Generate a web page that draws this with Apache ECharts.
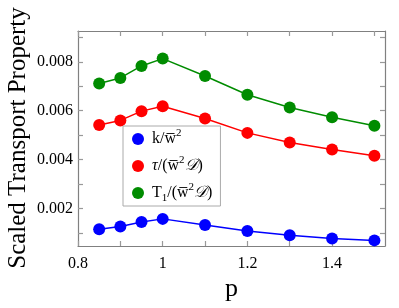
<!DOCTYPE html>
<html><head><meta charset="utf-8">
<script src="https://cdn.jsdelivr.net/npm/echarts@6/dist/echarts.min.js"></script>
<style>html,body{margin:0;padding:0;background:#fff}#c{width:399px;height:308px}</style>
</head><body><div id="c"></div>
<script>
const pValues = [0.85, 0.9, 0.95, 1.0, 1.1, 1.2, 1.3, 1.4, 1.5];
const kScaled = [0.00115, 0.00126, 0.00144, 0.00157, 0.00132, 0.00107, 0.00090, 0.00077, 0.00069];
const tauScaled = [0.00541, 0.00560, 0.00598, 0.00618, 0.00568, 0.00509, 0.00470, 0.00441, 0.00415];
const t1Scaled = [0.00711, 0.00734, 0.00783, 0.00813, 0.00742, 0.00665, 0.00613, 0.00573, 0.00538];
const seriesNames = ['k', 'tau', 'T1'];
const xTickValues = [0.8, 0.9, 1.0, 1.1, 1.2, 1.3, 1.4, 1.5];
const xLabelValues = [0.8, 1.0, 1.2, 1.4];
const yTickValues = [0.001, 0.002, 0.003, 0.004, 0.005, 0.006, 0.007, 0.008, 0.009];
const yLabelValues = [0.002, 0.004, 0.006, 0.008];
const yTitle = 'Scaled Transport Property';

const FONT = '"Liberation Serif", "DejaVu Serif", serif';
const pair = (ys) => pValues.map((x, i) => [x, ys[i]]);
const chart = echarts.init(document.getElementById('c'), null, {renderer: 'canvas'});
const axisCol = '#808080';

const common = {
  axisLine: {show: true, lineStyle: {color: axisCol, width: 1.2}},
  splitLine: {show: false}
};
const tick = (vals) => ({show: true, inside: true, length: 5, customValues: vals, lineStyle: {color: '#999', width: 1.2}});
const legendFmt = {
  k: '{f|k/w\u0305}{sup|2}',
  tau: '{fi|τ}{t|/(w\u0305}{sup|2}{it|𝒟}{t|)}',
  T1: '{f|T}{sub|1}{t|/(w\u0305}{sup|2}{it|𝒟}{t|)}'
};
const mk = (name, data, color) => ({
  name, type: 'line', data, symbol: 'circle', symbolSize: 12,
  itemStyle: {color}, lineStyle: {color, width: 1.5}, z: 3
});
chart.setOption({
  animation: false,
  grid: {left: 78, right: 14, top: 31, bottom: 62, containLabel: false, outerBoundsMode: 'none'},
  graphic: [{
    type: 'text', x: 18, y: 138, rotation: Math.PI / 2,
    style: {text: yTitle, fontFamily: FONT, fontSize: 25, fill: '#000', align: 'center', verticalAlign: 'middle'}
  }],
  xAxis: [
    Object.assign({type: 'value', min: 0.8, max: 1.525,
      name: 'p', nameLocation: 'middle', nameGap: 30, nameMoveOverlap: false,
      nameTextStyle: {fontFamily: FONT, fontSize: 26, color: '#000'},
      axisTick: tick(xTickValues),
      axisLabel: {customValues: xLabelValues, formatter: (v) => String(+v.toFixed(1)),
        fontFamily: FONT, fontSize: 16, color: '#000', margin: 10}}, common),
    Object.assign({type: 'value', position: 'top', min: 0.8, max: 1.525,
      axisTick: tick(xTickValues), axisLabel: {show: false}}, common)
  ],
  yAxis: [
    Object.assign({type: 'value', min: 0.00046, max: 0.00926,
      axisTick: tick(yTickValues),
      axisLabel: {customValues: yLabelValues, formatter: (v) => v.toFixed(3),
        fontFamily: FONT, fontSize: 16, color: '#000', margin: 5}}, common),
    Object.assign({type: 'value', position: 'right', min: 0.00046, max: 0.00926,
      axisTick: tick(yTickValues), axisLabel: {show: false}}, common)
  ],
  legend: {
    orient: 'vertical', left: 123, top: 126, padding: [2, 8, 2, 9],
    borderColor: '#aaa', borderWidth: 1, backgroundColor: '#fff',
    icon: 'circle', itemWidth: 12, itemHeight: 12, itemGap: 8,
    data: seriesNames,
    formatter: (n) => legendFmt[n],
    textStyle: {
      fontFamily: FONT, fontSize: 16, color: '#000',
      rich: {
        f: {fontFamily: FONT, fontSize: 16, lineHeight: 22, padding: [0, 0, 0, 3]},
        fi: {fontFamily: FONT, fontSize: 16, lineHeight: 22, fontStyle: 'italic', padding: [0, 0, 0, 3]},
        t: {fontFamily: FONT, fontSize: 16, lineHeight: 22},
        it: {fontFamily: FONT, fontSize: 16, lineHeight: 22, fontStyle: 'italic'},
        sup: {fontFamily: FONT, fontSize: 11, lineHeight: 12, verticalAlign: 'top'},
        sub: {fontFamily: FONT, fontSize: 11, lineHeight: 12, verticalAlign: 'bottom'}
      }
    }
  },
  series: [
    mk('k', pair(kScaled), '#0000ff'),
    mk('tau', pair(tauScaled), '#ff0000'),
    mk('T1', pair(t1Scaled), '#008c00')
  ]
});
</script></body></html>
